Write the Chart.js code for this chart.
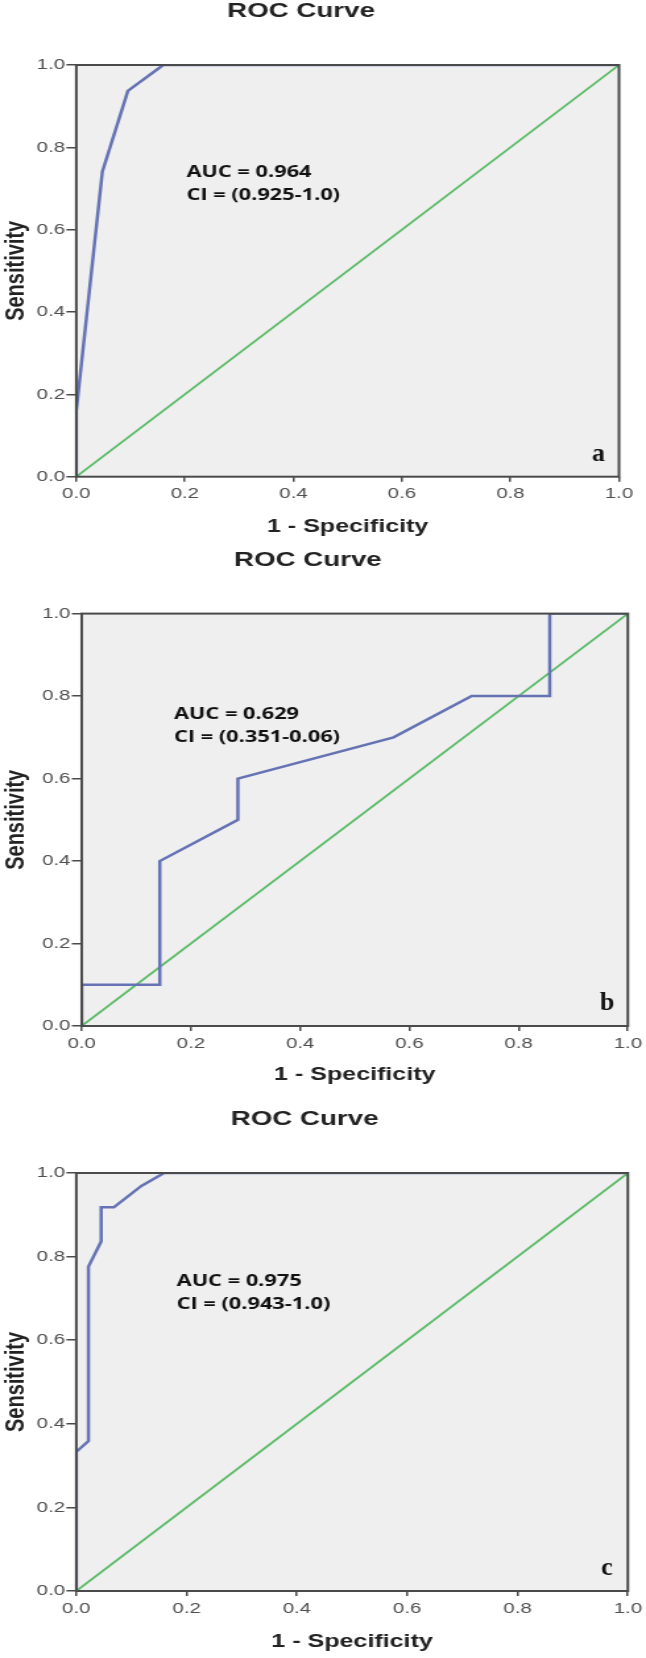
<!DOCTYPE html>
<html>
<head>
<meta charset="utf-8">
<title>ROC Curves</title>
<script src="https://cdn.jsdelivr.net/npm/chart.js@4.4.1/dist/chart.umd.min.js"></script>
<style>
  body { margin: 0; background: #fff; }
  #page { position: relative; width: 646px; height: 1658px; overflow: hidden; }
  canvas { position: absolute; left: 0; }
</style>
</head>
<body>
<div id="page">
  <canvas id="rocA"></canvas>
  <canvas id="rocB"></canvas>
  <canvas id="rocC"></canvas>
</div>
<script>
// axis ticks shared by all three panels
const tickValues = [0, 0.2, 0.4, 0.6, 0.8, 1.0];
const tickLabels = ['0.0', '0.2', '0.4', '0.6', '0.8', '1.0'];

// panel a
const aSpec = [0, 0, 0.048, 0.095, 0.16, 1];
const aSens = [0, 0.16, 0.741, 0.937, 1, 1];

// panel b
const bSpec = [0, 0, 0.143, 0.143, 0.286, 0.286, 0.571, 0.714, 0.857, 0.857, 1];
const bSens = [0, 0.1, 0.1, 0.4, 0.5, 0.6, 0.7, 0.8, 0.8, 1, 1];

// panel c
const cSpec = [0, 0, 0.022, 0.022, 0.045, 0.045, 0.068, 0.118, 0.159, 1];
const cSens = [0, 0.333, 0.359, 0.776, 0.836, 0.918, 0.918, 0.969, 1, 1];

// chance line
const refSpec = [0, 1];
const refSens = [0, 1];

const panelLetters = ['a', 'b', 'c'];
const aucTexts = ['AUC = 0.964', 'AUC = 0.629', 'AUC = 0.975'];
const ciTexts = ['CI = (0.925-1.0)', 'CI = (0.351-0.06)', 'CI = (0.943-1.0)'];

// the original figure is stretched sideways, so the canvases are too
const INNER_W = 490;
const STRETCH = 646 / INNER_W;

const rocFrame = {
  id: 'rocFrame',
  beforeDraw(chart) {
    const { ctx, chartArea: a } = chart;
    ctx.save();
    ctx.fillStyle = '#efefef';
    ctx.fillRect(a.left, a.top, a.width, a.height);
    ctx.restore();
  },
  afterDraw(chart, args, opts) {
    const { ctx, chartArea: a, scales: { x, y } } = chart;
    ctx.save();
    ctx.strokeStyle = '#4a4a4a';
    ctx.lineWidth = 2;
    ctx.strokeRect(a.left, a.top, a.width, a.height);

    ctx.fillStyle = '#222';
    ctx.font = 'bold 21px "Liberation Sans", Arial, sans-serif';
    ctx.textAlign = 'center';
    ctx.textBaseline = 'middle';
    ctx.fillText('ROC Curve', a.left + a.width * 0.414, a.top - 53.5);

    ctx.fillStyle = '#111';
    ctx.font = 'bold 16.5px "Open Sans", sans-serif';
    ctx.textAlign = 'left';
    const tx = x.getPixelForValue(opts.noteX);
    const ty = y.getPixelForValue(opts.noteY);
    ctx.fillText(opts.auc, tx, ty);
    ctx.fillText(opts.ci, tx, ty + 22.7);

    ctx.font = 'bold 26px "Liberation Serif", "Times New Roman", serif';
    ctx.textAlign = 'center';
    ctx.textBaseline = 'alphabetic';
    ctx.translate(x.getPixelForValue(0.962), y.getPixelForValue(0.038));
    ctx.scale(1 / STRETCH, 1);
    ctx.fillText(opts.letter, 0, 0);
    ctx.restore();
  }
};

function points(xs, ys) {
  return xs.map((v, i) => ({ x: v, y: ys[i] }));
}

function axis(extra) {
  return Object.assign({
    type: 'linear',
    min: 0,
    max: 1,
    afterBuildTicks: s => { s.ticks = tickValues.map(v => ({ value: v })); },
    ticks: {
      callback: (v, i) => tickLabels[i],
      color: '#4f4f4f',
      font: { family: '"Liberation Sans", Arial, sans-serif', size: 15.5 }
    },
    border: { display: false }
  }, extra);
}

// geo values are page pixels
function makeChart(id, geo, spec, sens, idx) {
  const canvas = document.getElementById(id);
  canvas.width = INNER_W;
  canvas.height = geo.h;
  canvas.style.top = geo.top + 'px';
  canvas.style.width = '646px';
  canvas.style.height = geo.h + 'px';

  const xAxis = axis({
    grid: { drawOnChartArea: false, drawTicks: true, tickLength: 5, color: '#4a4a4a', lineWidth: 1.5 },
    title: {
      display: true, text: '1 - Specificity', color: '#222',
      font: { family: '"Liberation Sans", Arial, sans-serif', size: 19, weight: 'bold' },
      padding: { top: 0, bottom: 4 }
    },
    afterFit: s => { s.height = geo.h - (geo.b - geo.top); }
  });
  xAxis.ticks.padding = 3;

  const yAxis = axis({
    grid: { drawOnChartArea: false, drawTicks: true, tickLength: 7.5, color: '#4a4a4a', lineWidth: 1.5 },
    title: {
      display: true, text: 'Sensitivity', color: '#222',
      font: { family: '"Liberation Sans", Arial, sans-serif', size: 20, weight: 'bold' },
      padding: { top: 0.5, bottom: 0 }
    },
    afterFit: s => { s.width = geo.l / STRETCH; }
  });
  yAxis.ticks.padding = 1;

  return new Chart(canvas, {
    type: 'scatter',
    data: {
      datasets: [
        {
          data: points(spec, sens),
          showLine: true,
          borderColor: '#6573b4',
          borderWidth: 2.5,
          pointRadius: 0,
          tension: 0
        },
        {
          data: points(refSpec, refSens),
          showLine: true,
          borderColor: '#5cbc68',
          borderWidth: 1.8,
          pointRadius: 0
        }
      ]
    },
    options: {
      responsive: false,
      animation: false,
      devicePixelRatio: 1,
      layout: {
        padding: { top: geo.t - geo.top, right: INNER_W - geo.r / STRETCH, bottom: 0, left: 0 }
      },
      scales: { x: xAxis, y: yAxis },
      plugins: {
        legend: { display: false },
        tooltip: { enabled: false },
        rocFrame: {
          auc: aucTexts[idx],
          ci: ciTexts[idx],
          letter: panelLetters[idx],
          noteX: geo.noteX,
          noteY: geo.noteY
        }
      }
    },
    plugins: [rocFrame]
  });
}

makeChart('rocA', { top: 0, h: 542, l: 76.3, r: 619, t: 65, b: 476.7, noteX: 0.203, noteY: 0.739 }, aSpec, aSens, 0);
makeChart('rocB', { top: 540, h: 550, l: 81.7, r: 628, t: 613.6, b: 1026, noteX: 0.169, noteY: 0.755 }, bSpec, bSens, 1);
makeChart('rocC', { top: 1090, h: 567, l: 76.3, r: 628, t: 1173, b: 1591, noteX: 0.182, noteY: 0.74 }, cSpec, cSens, 2);
</script>
</body>
</html>
